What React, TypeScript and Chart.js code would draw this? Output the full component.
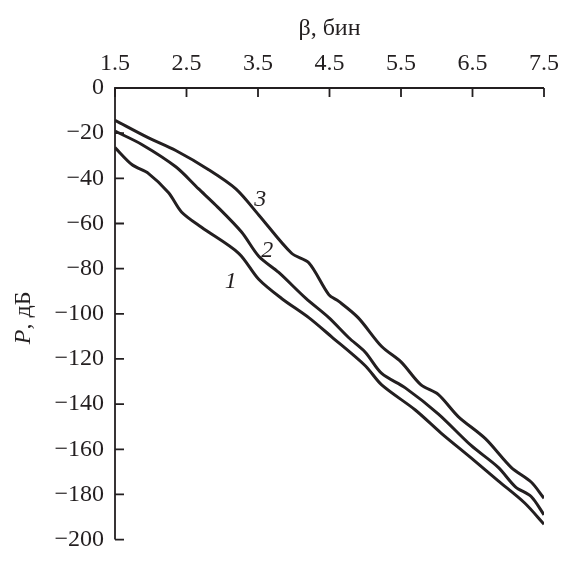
import React, { useEffect, useRef } from "react";
import { Chart, registerables } from "chart.js";

Chart.register(...registerables);

const xTickValues = [1.5, 2.5, 3.5, 4.5, 5.5, 6.5, 7.5];
const yMin = -200;
const yMax = 0;

const curve1X = [1.5, 1.74, 1.97, 2.25, 2.43, 2.71, 3.23, 3.51, 3.83, 4.21, 4.53, 5.0, 5.23, 5.7, 6.06, 6.48, 6.86, 7.23, 7.5];
const curve1Y = [-26.4, -34, -37.9, -46.4, -54.9, -61.7, -73.2, -84.7, -93.2, -101.7, -110.2, -123, -131.5, -142.6, -152.8, -163.8, -174, -183.8, -193.2];

const curve2X = [1.5, 1.88, 2.35, 2.67, 2.91, 3.27, 3.51, 3.79, 4.17, 4.49, 4.77, 5.0, 5.23, 5.56, 6.02, 6.48, 6.86, 7.1, 7.32, 7.5];
const curve2Y = [-19.1, -25.1, -34.9, -44.7, -51.9, -63.8, -74.5, -81.7, -93.2, -101.7, -110.6, -117, -126.4, -132.8, -144.3, -158.3, -168, -176.6, -180.9, -189];

const curve3X = [1.5, 1.97, 2.35, 2.81, 3.19, 3.51, 3.97, 4.21, 4.49, 4.63, 4.9, 5.23, 5.5, 5.78, 6.02, 6.3, 6.68, 7.04, 7.32, 7.5];
const curve3Y = [-14.3, -22.1, -27.7, -36.2, -44.7, -56.2, -73.2, -77.4, -91.5, -94.5, -101.7, -114.5, -121.3, -131.5, -135.7, -145.5, -155.3, -168, -174.5, -181.7];

const curveLabels = ["1", "2", "3"];
const curveLabelX = [3.12, 3.63, 3.53];
const curveLabelY = [-85.8, -72.2, -49.6];

const xTitle = "β, бин";
const yTitleItalic = "P";
const yTitleRest = ", дБ";

const INK = "#231f20";
const FONT = "'Liberation Serif', 'Times New Roman', serif";
const FS = 24;

const toPoints = (xs: number[], ys: number[]) => xs.map((x, i) => ({ x, y: ys[i] }));

const fmt = (v: number) => (v < 0 ? "\u2212" + Math.abs(v) : String(v));

const axesPlugin = {
  id: "customAxes",
  afterDraw(chart: any) {
    const ctx = chart.ctx;
    const xs = chart.scales.x;
    const ys = chart.scales.y;
    const { left, right, top, bottom } = chart.chartArea;
    ctx.save();
    ctx.strokeStyle = INK;
    ctx.lineWidth = 1.8;
    ctx.beginPath();
    ctx.moveTo(left, bottom);
    ctx.lineTo(left, top);
    ctx.lineTo(right, top);
    ctx.stroke();
    const tl = 9;
    ctx.beginPath();
    xTickValues.forEach((v) => {
      const px = xs.getPixelForValue(v);
      ctx.moveTo(px, top);
      ctx.lineTo(px, top + tl);
    });
    ys.ticks.forEach((t: any) => {
      const py = ys.getPixelForValue(t.value);
      ctx.moveTo(left, py);
      ctx.lineTo(left + tl, py);
    });
    ctx.stroke();

    // curve labels
    ctx.fillStyle = INK;
    ctx.font = "italic " + FS + "px " + FONT;
    ctx.textAlign = "center";
    ctx.textBaseline = "middle";
    curveLabels.forEach((lab, i) => {
      ctx.fillText(lab, xs.getPixelForValue(curveLabelX[i]), ys.getPixelForValue(curveLabelY[i]));
    });

    // y title
    ctx.translate(24, (top + bottom) / 2 + 4);
    ctx.rotate(-Math.PI / 2);
    ctx.textBaseline = "middle";
    ctx.font = "italic " + FS + "px " + FONT;
    const w1 = ctx.measureText(yTitleItalic).width;
    ctx.font = FS + "px " + FONT;
    const w2 = ctx.measureText(yTitleRest).width;
    const start = -(w1 + w2) / 2;
    ctx.textAlign = "left";
    ctx.font = "italic " + FS + "px " + FONT;
    ctx.fillText(yTitleItalic, start, 0);
    ctx.font = FS + "px " + FONT;
    ctx.fillText(yTitleRest, start + w1, 0);
    ctx.restore();
  },
};

export default function App() {
  const ref = useRef<HTMLCanvasElement | null>(null);
  useEffect(() => {
    if (!ref.current) return;
    const lineDs = (xs: number[], ys: number[]) => ({
      data: toPoints(xs, ys),
      borderColor: INK,
      borderWidth: 3,
      pointRadius: 0,
      tension: 0.3,
      fill: false,
    });
    const chart = new Chart(ref.current, {
      type: "line",
      data: {
        datasets: [lineDs(curve1X, curve1Y), lineDs(curve2X, curve2Y), lineDs(curve3X, curve3Y)],
      },
      options: {
        animation: false,
        responsive: false,
        maintainAspectRatio: false,
        layout: { padding: { left: 0, right: 19, top: 0, bottom: 7 } },
        plugins: { legend: { display: false }, tooltip: { enabled: false } },
        scales: {
          x: {
            type: "linear",
            position: "top",
            min: 1.5,
            max: 7.5,
            afterBuildTicks: (scale: any) => {
              scale.ticks = xTickValues.map((v) => ({ value: v }));
            },
            afterFit: (scale: any) => {
              scale.height = 88;
            },
            grid: { display: false, drawTicks: false },
            border: { display: false },
            ticks: {
              color: INK,
              font: { family: FONT, size: FS },
              padding: 10,
              maxRotation: 0,
              autoSkip: false,
              callback: (v: any) => Number(v).toFixed(1),
            },
            title: {
              display: true,
              text: xTitle,
              color: INK,
              font: { family: FONT, size: FS },
              padding: { top: 14, bottom: 0 },
            },
          },
          y: {
            type: "linear",
            min: yMin,
            max: yMax,
            afterFit: (scale: any) => {
              scale.width = 115;
            },
            grid: { display: false, drawTicks: false },
            border: { display: false },
            ticks: {
              stepSize: 20,
              color: INK,
              font: { family: FONT, size: FS },
              padding: 11,
              callback: (v: any) => fmt(Number(v)),
            },
          },
        },
      },
      plugins: [axesPlugin],
    } as any);
    return () => chart.destroy();
  }, []);
  return (
    <div style={{ position: "absolute", left: 0, top: 0, width: 569, height: 565, background: "#fff" }}>
      <canvas ref={ref} width={569} height={565} style={{ width: 569, height: 565 }} />
    </div>
  );
}
